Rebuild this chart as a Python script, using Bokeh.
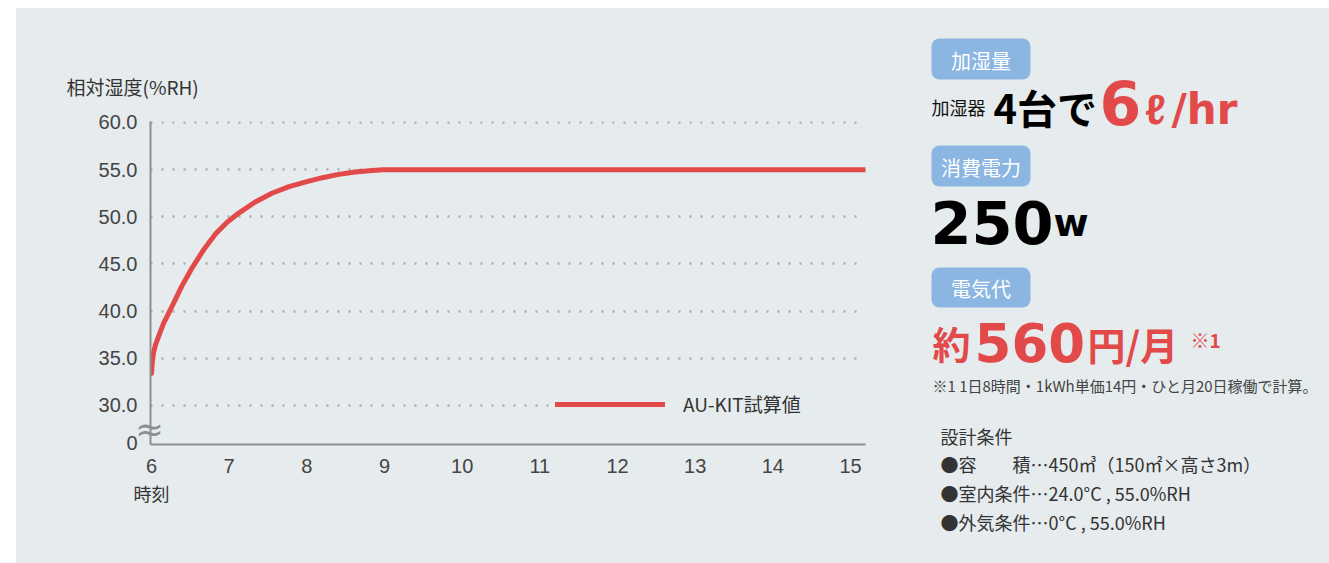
from bokeh.plotting import figure
from bokeh.models import (Range1d, FixedTicker, Label, Legend, LegendItem, Title,
                          PrintfTickFormatter)
from bokeh.layouts import row
from bokeh.embed import file_html
from bokeh.resources import INLINE

# ---------------- data ----------------
hours = [6.0, 6.01, 6.026, 6.05, 6.09, 6.155, 6.258, 6.387, 6.516, 6.671, 6.826, 6.97,
         7.123, 7.33, 7.55, 7.77, 7.99, 8.2, 8.41, 8.62, 8.84, 8.98, 9.12,
         10, 11, 12, 13, 14, 15, 15.2]
humidity = [33.4, 34.6, 35.6, 36.4, 37.3, 38.7, 40.4, 42.6, 44.5, 46.5, 48.2, 49.4,
            50.4, 51.55, 52.5, 53.2, 53.7, 54.15, 54.5, 54.75, 54.92, 54.98, 55.0,
            55.0, 55.0, 55.0, 55.0, 55.0, 55.0, 55.0]
x_ticks = [6, 7, 8, 9, 10, 11, 12, 13, 14, 15]
y_ticks = [30, 35, 40, 45, 50, 55, 60]
y_break_tick = 26
y_break_label = "0"
series_name = "AU-KIT試算値"
y_title = "相対湿度(%RH)"
x_title = "時刻"

BG = "#e6ebee"
RED = "#e24a4a"
BLUE = "#8ab6e1"
NUM_FONT = "Liberation Sans"
JP_FONT = "Noto Sans CJK JP"
HEAVY = "DejaVu Sans"

# ---------------- chart ----------------
W1, H = 894, 555
ML, MR, MT, MB = 134, 45, 113, 119
XS, XE = 5.987, 15.193
YS, YE = 25.864, 60.106

p1 = figure(width=W1, height=H, output_backend="svg", toolbar_location=None,
            x_range=Range1d(XS, XE), y_range=Range1d(YS, YE),
            min_border_left=ML, min_border_right=MR, min_border_top=MT, min_border_bottom=MB,
            background_fill_color=BG, border_fill_color=BG, outline_line_color=None)
p1.frame_align = False

FX0, FW = 16 + ML, W1 - ML - MR
FY0, FH = 8 + MT, H - MT - MB


def px2x(px):
    return XS + (px - FX0) / FW * (XE - XS)


def py2y(py):
    return YE - (py - FY0) / FH * (YE - YS)


r = p1.line(hours, humidity, line_color=RED, line_width=5, line_join="round", line_cap="round")

p1.xgrid.visible = False
p1.ygrid.ticker = FixedTicker(ticks=y_ticks)
p1.ygrid.grid_line_color = "#a9adb0"
p1.ygrid.grid_line_width = 2.5
p1.ygrid.grid_line_dash = "2 9"

for ax in (p1.xaxis[0], p1.yaxis[0]):
    ax.axis_line_color = "#8e8e8e"
    ax.axis_line_width = 2
    ax.major_tick_line_color = None
    ax.minor_tick_line_color = None
    ax.major_label_text_font = NUM_FONT
    ax.major_label_text_font_size = "20px"
    ax.major_label_text_color = "#444444"

p1.xaxis.ticker = FixedTicker(ticks=x_ticks)
p1.xaxis.major_label_standoff = 8
p1.yaxis.ticker = FixedTicker(ticks=[y_break_tick] + y_ticks)
p1.yaxis.formatter = PrintfTickFormatter(format="%.1f")
p1.yaxis.major_label_overrides = {y_break_tick: y_break_label}
p1.yaxis.major_label_standoff = 7

legend = Legend(items=[LegendItem(label=series_name, renderers=[r])], location=(405, 27),
                glyph_width=110, glyph_height=20, label_standoff=18, padding=15, margin=0,
                label_width=185,
                border_line_color=None, background_fill_color=BG, background_fill_alpha=1,
                label_text_font=JP_FONT, label_text_font_size="19px", label_text_color="#333333")
p1.add_layout(legend)

p1.add_layout(Title(text=y_title, align="left", offset=-84, standoff=43, text_font=JP_FONT,
                    text_font_size="19px", text_font_style="normal", text_color="#333333"),
              "above")
p1.add_layout(Title(text=x_title, align="left", offset=-17, standoff=4, text_font=JP_FONT,
                    text_font_size="18px", text_font_style="normal", text_color="#333333"),
              "below")
p1.add_layout(Label(x=px2x(149), y=py2y(428), text="≈", text_font=HEAVY,
                    text_font_size="34px", text_color="#8e8e8e", text_align="center",
                    text_baseline="middle"), "left")

# ---------------- right panel ----------------
X2 = 16 + W1
W2 = 1329 - X2
p2 = figure(width=W2, height=H, output_backend="svg", toolbar_location=None,
            x_range=Range1d(X2, X2 + W2), y_range=Range1d(8 + H, 8),
            x_axis_type=None, y_axis_type=None, min_border=0,
            background_fill_color=BG, border_fill_color=BG, outline_line_color=None)
p2.frame_align = False
p2.xgrid.visible = False
p2.ygrid.visible = False

badge_labels = ["加湿量", "消費電力", "電気代"]
badge_top = [38, 145, 267]
badge_bottom = [79, 186, 307]
p2.quad(left=[931] * 3, right=[1030] * 3, top=badge_top, bottom=badge_bottom,
        fill_color=BLUE, line_color=None, border_radius=8)
for t, a, b in zip(badge_labels, badge_top, badge_bottom):
    p2.add_layout(Label(x=980.5, y=(a + b) / 2 + 1, text=t, text_font=JP_FONT,
                        text_font_size="20px", text_color="white", text_align="center",
                        text_baseline="middle"))


def lab(x, y, text, size, color, bold=True, font=JP_FONT):
    p2.add_layout(Label(x=x, y=y, text=text, text_font=font, text_font_size=size,
                        text_color=color, text_font_style="bold" if bold else "normal",
                        text_baseline="alphabetic"))


lab(931, 106, "加湿器", "18px", "#111111", bold=False)
lab(993, 106, "4台で", "40px", "#000000")
lab(1099, 102, "6", "60px", RED, font=HEAVY)
lab(1145, 109, "ℓ", "42px", RED, font=NUM_FONT)
lab(1171, 109, "/hr", "42px", RED, font=HEAVY)

lab(930, 222, "250", "59px", "#000000", font=HEAVY)
lab(1053, 222, "w", "38px", "#000000", font=HEAVY)

lab(932, 342, "約", "38px", RED)
lab(974, 342, "560", "53px", RED, font=HEAVY)
lab(1087, 343, "円/月", "38px", RED)
lab(1190, 339, "※1", "19px", RED)
lab(932, 385, "※1 1日8時間・1kWh単価14円・ひと月20日稼働で計算。", "15px", "#444444", bold=False)

lab(940, 435, "設計条件", "18px", "#333333", bold=False)
lab(940, 463, "●容　　積…450㎥（150㎡×高さ3m）", "18px", "#333333", bold=False)
lab(940, 492, "●室内条件…24.0°C , 55.0%RH", "18px", "#333333", bold=False)
lab(940, 521, "●外気条件…0°C , 55.0%RH", "18px", "#333333", bold=False)

layout = row(p1, p2)
layout.margin = (8, 0, 0, 16)
layout.styles = {"background-color": BG}
open("out.html", "w").write(file_html(layout, INLINE))
